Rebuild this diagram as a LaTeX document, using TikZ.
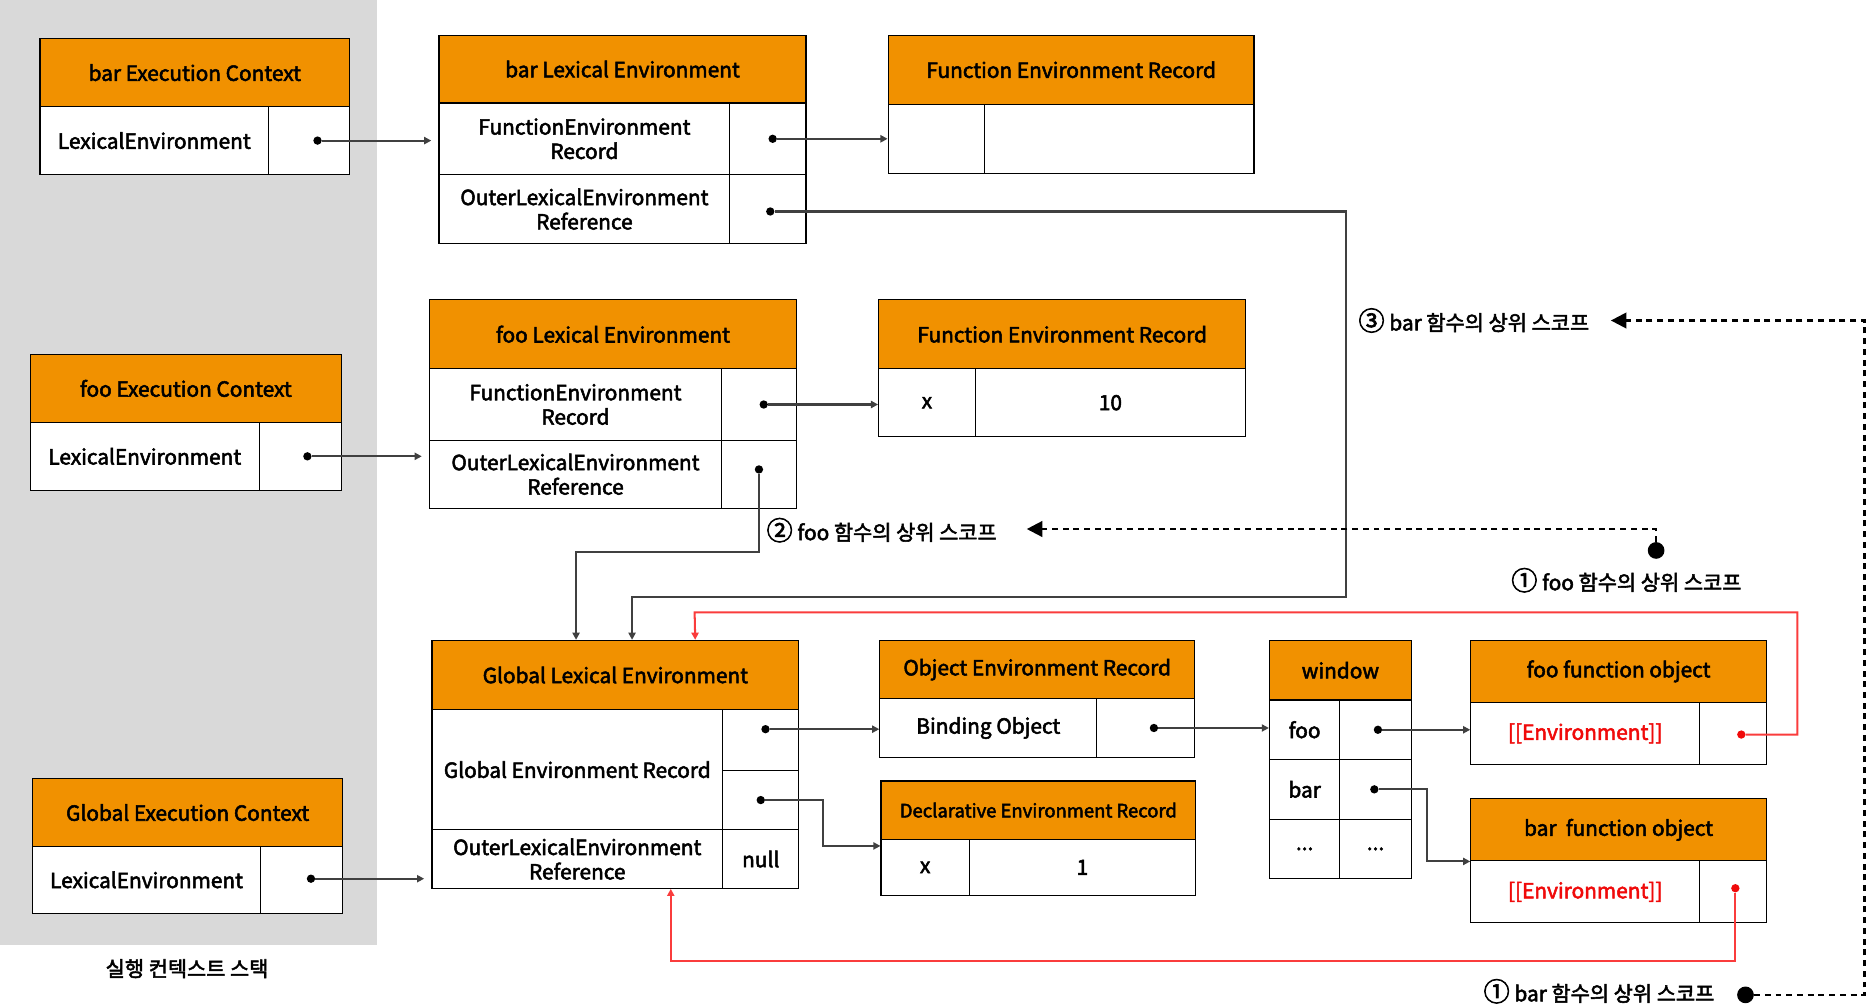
\documentclass[tikz,border=0pt]{standalone}
\usepackage{fontspec}
\setmainfont{Noto Sans CJK KR}[FakeBold=2.5]
\usetikzlibrary{arrows.meta,positioning,calc}
\definecolor{orng}{RGB}{241,145,0}
\definecolor{stackgray}{RGB}{217,217,217}
\definecolor{lnk}{RGB}{64,64,64}
\definecolor{refred}{RGB}{250,60,60}
\definecolor{envred}{RGB}{240,10,10}
\tikzstyle{hd}   = [draw, line width=1pt, fill=orng, anchor=north west, inner sep=0pt, align=center]
\tikzstyle{cl}   = [draw, line width=1pt, fill=white, anchor=north west, inner sep=0pt, align=center]
\tikzstyle{conn} = [draw=lnk, line width=1.7pt, -{Triangle[length=6pt,width=6pt]}]
\newcommand{\circnum}[1]{{\fontsize{22}{22}\selectfont #1}}

\begin{document}
\begin{tikzpicture}[x=1pt, y=-1pt, font=\fontsize{17.5}{20.5}\selectfont,
			dot/.style={circle, fill=black, inner sep=0pt, minimum size=7pt},
			reddot/.style={circle, fill=envred, inner sep=0pt, minimum size=7pt},
			bigdot/.style={circle, fill=black, inner sep=0pt, minimum size=14pt},
			scopeln/.style={line width=2pt, dash pattern=on 5pt off 4pt, -{Triangle[length=13pt,width=13pt]}},
			redconn/.style={draw=refred, line width=1.7pt, -{Triangle[length=6pt,width=6pt]}},
			lbl/.style={inner sep=0pt}]

		\useasboundingbox (0,0) rectangle (1567,844.35);
		\fill[stackgray] (0,0) rectangle (316,793);
		\node[lbl] (stack) at (157,813) {실행 컨텍스트 스택};

		% bar execution context / lexical environment
		\node[hd, minimum width=260pt, minimum height=57pt] (barEC) at (33,32) {bar Execution Context};
		\node[cl, minimum width=192pt, minimum height=57pt] (barECk) at (33,89) {LexicalEnvironment};
		\node[cl, minimum width=68pt, minimum height=57pt] (barECv) at (225,89) {};

		\node[hd, minimum width=308pt, minimum height=57pt] (barLE) at (368,29) {bar Lexical Environment};
		\node[cl, minimum width=244pt, minimum height=60pt] (barLEk1) at (368,86) {FunctionEnvironment\\Record};
		\node[cl, minimum width=64pt, minimum height=60pt] (barLEv1) at (612,86) {};
		\node[cl, minimum width=244pt, minimum height=58pt] (barLEk2) at (368,146) {OuterLexicalEnvironment\\Reference};
		\node[cl, minimum width=64pt, minimum height=58pt] (barLEv2) at (612,146) {};

		\node[hd, minimum width=307pt, minimum height=58pt] (barFER) at (745,29) {Function Environment Record};
		\node[cl, minimum width=81pt, minimum height=58pt] (barFERk) at (745,87) {};
		\node[cl, minimum width=226pt, minimum height=58pt] (barFERv) at (826,87) {};

		% foo execution context / lexical environment
		\node[hd, minimum width=261pt, minimum height=57pt] (fooEC) at (25,297) {foo Execution Context};
		\node[cl, minimum width=192pt, minimum height=57pt] (fooECk) at (25,354) {LexicalEnvironment};
		\node[cl, minimum width=69pt, minimum height=57pt] (fooECv) at (217,354) {};

		\node[hd, minimum width=308pt, minimum height=58pt] (fooLE) at (360,251) {foo Lexical Environment};
		\node[cl, minimum width=245pt, minimum height=60pt] (fooLEk1) at (360,309) {FunctionEnvironment\\Record};
		\node[cl, minimum width=63pt, minimum height=60pt] (fooLEv1) at (605,309) {};
		\node[cl, minimum width=245pt, minimum height=57pt] (fooLEk2) at (360,369) {OuterLexicalEnvironment\\Reference};
		\node[cl, minimum width=63pt, minimum height=57pt] (fooLEv2) at (605,369) {};

		\node[hd, minimum width=308pt, minimum height=58pt] (fooFER) at (737,251) {Function Environment Record};
		\node[cl, minimum width=81pt, minimum height=57pt] (fooFERk) at (737,309) {x};
		\node[cl, minimum width=227pt, minimum height=57pt] (fooFERv) at (818,309) {10};

		% global execution context / lexical environment
		\node[hd, minimum width=260pt, minimum height=57pt] (gEC) at (27,653) {Global Execution Context};
		\node[cl, minimum width=191pt, minimum height=56pt] (gECk) at (27,710) {LexicalEnvironment};
		\node[cl, minimum width=69pt, minimum height=56pt] (gECv) at (218,710) {};

		\node[hd, minimum width=308pt, minimum height=58pt] (gLE) at (362,537) {Global Lexical Environment};
		\node[cl, minimum width=244pt, minimum height=101pt] (gLEk1) at (362,595) {Global Environment Record};
		\node[cl, minimum width=64pt, minimum height=51pt] (gLEv1a) at (606,595) {};
		\node[cl, minimum width=64pt, minimum height=50pt] (gLEv1b) at (606,646) {};
		\node[cl, minimum width=244pt, minimum height=49pt] (gLEk2) at (362,696) {OuterLexicalEnvironment\\Reference};
		\node[cl, minimum width=64pt, minimum height=49pt] (gLEv2) at (606,696) {null};

		\node[hd, minimum width=264pt, minimum height=49pt] (oER) at (738,537) {Object Environment Record};
		\node[cl, minimum width=182pt, minimum height=49pt] (oERk) at (738,586) {Binding Object};
		\node[cl, minimum width=82pt, minimum height=49pt] (oERv) at (920,586) {};

		\node[hd, minimum width=264pt, minimum height=49pt, font=\fontsize{15.5}{18}\selectfont] (dER) at (739,655) {Declarative Environment Record};
		\node[cl, minimum width=74pt, minimum height=47pt] (dERk) at (739,704) {x};
		\node[cl, minimum width=190pt, minimum height=47pt] (dERv) at (813,704) {1};

		% window object and function objects
		\node[hd, minimum width=119pt, minimum height=50pt] (win) at (1065,537) {window};
		\node[cl, minimum width=59pt, minimum height=50pt] (wink1) at (1065,587) {foo};
		\node[cl, minimum width=60pt, minimum height=50pt] (winv1) at (1124,587) {};
		\node[cl, minimum width=59pt, minimum height=50pt] (wink2) at (1065,637) {bar};
		\node[cl, minimum width=60pt, minimum height=50pt] (winv2) at (1124,637) {};
		\node[cl, minimum width=59pt, minimum height=50pt] (wink3) at (1065,687) {...};
		\node[cl, minimum width=60pt, minimum height=50pt] (winv3) at (1124,687) {...};

		\node[hd, minimum width=248pt, minimum height=52pt] (fooFO) at (1234,537) {foo function object};
		\node[cl, minimum width=192pt, minimum height=52pt, text=envred] (fooFOk) at (1234,589) {[[Environment]]};
		\node[cl, minimum width=56pt, minimum height=52pt] (fooFOv) at (1426,589) {};

		\node[hd, minimum width=248pt, minimum height=52pt] (barFO) at (1234,670) {bar\ \ function object};
		\node[cl, minimum width=192pt, minimum height=52pt, text=envred] (barFOk) at (1234,722) {[[Environment]]};
		\node[cl, minimum width=56pt, minimum height=52pt] (barFOv) at (1426,722) {};

		% pointer dots
		\node[dot] (barECd) at ([xshift=7pt]barECv.center) {};
		\node[dot] (barLEd1) at ([xshift=4pt]barLEv1.center) {};
		\node[dot] (barLEd2) at ([xshift=2pt,yshift=-2pt]barLEv2.center) {};
		\node[dot] (fooECd) at ([xshift=6pt]fooECv.center) {};
		\node[dot] (fooLEd1) at ([xshift=4pt]fooLEv1.center) {};
		\node[dot] (fooLEd2) at ([xshift=0pt,yshift=4pt]fooLEv2.center) {};
		\node[dot] (gECd) at ([xshift=8pt,yshift=1pt]gECv.center) {};
		\node[dot] (gLEd1) at ([xshift=4pt,yshift=9pt]gLEv1a.center) {};
		\node[dot] (gLEd2) at (gLEv1b.center) {};
		\node[dot] (oERd) at ([xshift=7pt]oERv.center) {};
		\node[dot] (wind1) at ([xshift=2pt]winv1.center) {};
		\node[dot] (wind2) at ([xshift=-1pt]winv2.center) {};
		\node[reddot] (fooFOd) at ([xshift=7pt,yshift=-1pt]fooFOv.center) {};
		\node[reddot] (barFOd) at ([xshift=2pt,yshift=3pt]barFOv.center) {};

		% references
		\draw[conn] (barECd) -- ([xshift=-6pt]barECd -| barLEk1.west);
		\draw[conn] (barLEd1) -- (barLEd1 -| barFERk.west);
		\coordinate (bend3) at (1130,501);
		\draw[conn] (barLEd2) -| (bend3) -| ([xshift=14pt]gLE.north);
		\draw[conn] (fooECd) -- ([xshift=-6pt]fooECd -| fooLEk1.west);
		\draw[conn] (fooLEd1) -- (fooLEd1 -| fooFERk.west);
		\draw[conn] (fooLEd2) -- ++(0,69) -| ([xshift=-33pt]gLE.north);
		\draw[conn] (gECd) -- ([xshift=-6pt]gECd -| gLEk2.west);
		\draw[conn] (gLEd1) -- (gLEd1 -| oERk.west);
		\draw[conn] (gLEd2) -- ++(52,0) |- ([yshift=-5pt]dER.south west);
		\draw[conn] (oERd) -- (oERd -| wink1.west);
		\draw[conn] (wind1) -- (wind1 -| fooFOk.west);
		\draw[conn] (wind2) -- ++(44,0) |- (barFO.south west);
		\draw[redconn] (fooFOd) -- ++(47,0) |- (583,514) -- ([xshift=67pt]gLE.north);
		\draw[redconn] (barFOd) -- ++(0,61) -| ([xshift=201pt]gLEk2.south west);

		% scope chain labels
		\node[lbl] (s3) at (1237,269) {\circnum{③} bar 함수의 상위 스코프};
		\node[lbl] (s2) at (740,445) {\circnum{②} foo 함수의 상위 스코프};
		\node[lbl] (s1f) at (1365,487) {\circnum{①} foo 함수의 상위 스코프};
		\node[lbl] (s1b) at (1342,832) {\circnum{①} bar 함수의 상위 스코프};
		\node[bigdot] (s1fd) at (1390,462) {};
		\node[bigdot] (s1bd) at (1465,835) {};
		\coordinate (r3) at (1565,269);
		\draw[scopeln] (s1fd) |- ([xshift=25pt]s2.east |- 0,444);
		\draw[scopeln] (s1bd) -| (r3) -- ([xshift=18pt]s3.east);
\end{tikzpicture}
\end{document}
